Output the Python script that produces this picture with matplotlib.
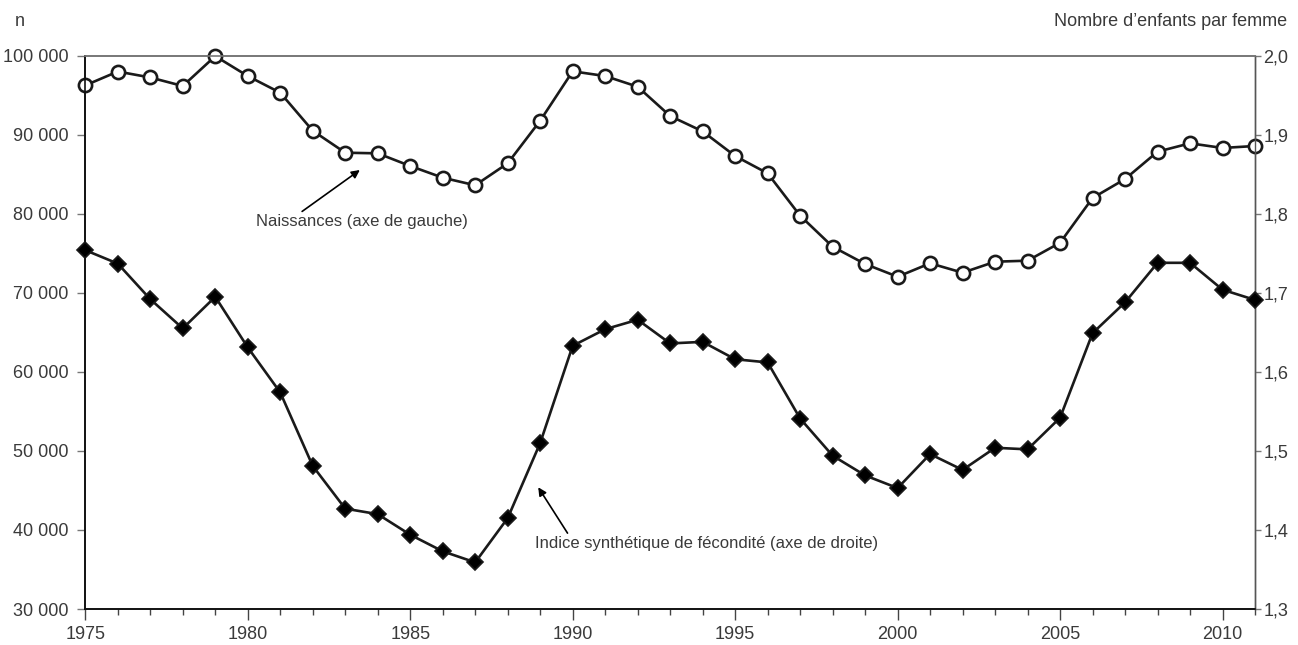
import matplotlib
matplotlib.use("Agg")
import matplotlib.pyplot as plt
from matplotlib.ticker import FuncFormatter, MultipleLocator

# Données
annees = list(range(1975, 2012))
naissances = [96250, 98000, 97250, 96170, 99950, 97430, 95320, 90510, 87730, 87650,
              86050, 84570, 83610, 86390, 91780, 98030, 97430, 96080, 92370, 90430,
              87310, 85120, 79760, 75840, 73650, 72040, 73740, 72550, 73940, 74070,
              76340, 82000, 84400, 87860, 88920, 88330, 88580]
isf = [1.754, 1.737, 1.692, 1.655, 1.695, 1.631, 1.574, 1.481, 1.427, 1.420,
       1.394, 1.373, 1.359, 1.415, 1.510, 1.633, 1.654, 1.666, 1.636, 1.638,
       1.616, 1.612, 1.541, 1.494, 1.469, 1.453, 1.496, 1.476, 1.504, 1.502,
       1.542, 1.649, 1.688, 1.738, 1.738, 1.704, 1.691]

texte = "#3a3a3a"
ligne = "#1a1a1a"
plt.rcParams['font.family'] = ['Liberation Sans', 'DejaVu Sans']
plt.rcParams['font.size'] = 13

fig = plt.figure(figsize=(12.98, 6.45), dpi=100)
ax = fig.add_axes([0.0657, 0.0558, 0.9012, 0.8578])
ax2 = ax.twinx()

ax.plot(annees, naissances, color=ligne, lw=1.9, marker='o', ms=9.5,
        mfc='white', mec=ligne, mew=1.9, clip_on=False, zorder=3)
ax2.plot(annees, isf, color=ligne, lw=1.9, marker='D', ms=8,
         mfc='black', mec=ligne, mew=1.2, clip_on=False, zorder=3)

ax.set_xlim(1975, 2011)
ax.set_ylim(30000, 100000)
ax2.set_ylim(1.3, 2.0)

ax.xaxis.set_major_locator(MultipleLocator(5))
ax.xaxis.set_minor_locator(MultipleLocator(1))
ax.yaxis.set_major_locator(MultipleLocator(10000))
ax2.yaxis.set_major_locator(MultipleLocator(0.1))

ax.yaxis.set_major_formatter(FuncFormatter(lambda v, p: f"{int(v):,}".replace(",", " ")))
ax2.yaxis.set_major_formatter(FuncFormatter(lambda v, p: f"{v:.1f}".replace(".", ",")))

ax.tick_params(axis='x', which='major', direction='out', length=8, width=1,
               color='#444444', pad=4, labelcolor=texte, labelsize=13)
ax.tick_params(axis='x', which='minor', direction='out', length=4.3, width=1,
               color='#444444')
ax.tick_params(axis='y', direction='out', length=6, width=1, color='#777777',
               pad=6, labelcolor=texte, labelsize=13)
ax2.tick_params(axis='y', direction='out', length=4, width=1, color='#777777',
                pad=2, labelcolor=texte, labelsize=13)

for a in (ax, ax2):
    a.spines['top'].set_color('#777777')
    a.spines['top'].set_linewidth(1.2)
    a.spines['left'].set_color('#111111')
    a.spines['left'].set_linewidth(1.2)
    a.spines['bottom'].set_color('#111111')
    a.spines['bottom'].set_linewidth(1.2)
    a.spines['right'].set_color('#555555')
    a.spines['right'].set_linewidth(1.0)

fig.text(15 / 1298, 1 - 22 / 645, "n", color=texte, fontsize=13, va='center', ha='left')
fig.text(1287 / 1298, 1 - 22 / 645, "Nombre d\u2019enfants par femme", color=texte,
         fontsize=13, va='center', ha='right')

ax.annotate("Naissances (axe de gauche)", xy=(1983.45, 85540), xytext=(1980.25, 79000),
            color=texte, fontsize=12, va='center', ha='left',
            arrowprops=dict(arrowstyle='-|>', color='black', lw=1.2,
                            mutation_scale=12, shrinkA=0, shrinkB=0,
                            relpos=(0.2, 1.0)))
ax.annotate("Indice synthétique de fécondité (axe de droite)", xy=(1988.94, 45400),
            xytext=(1988.84, 38300), color=texte, fontsize=12, va='center', ha='left',
            arrowprops=dict(arrowstyle='-|>', color='black', lw=1.2,
                            mutation_scale=12, shrinkA=0, shrinkB=0,
                            relpos=(0.1, 1.0)))

fig.savefig("out.png", dpi=100)
